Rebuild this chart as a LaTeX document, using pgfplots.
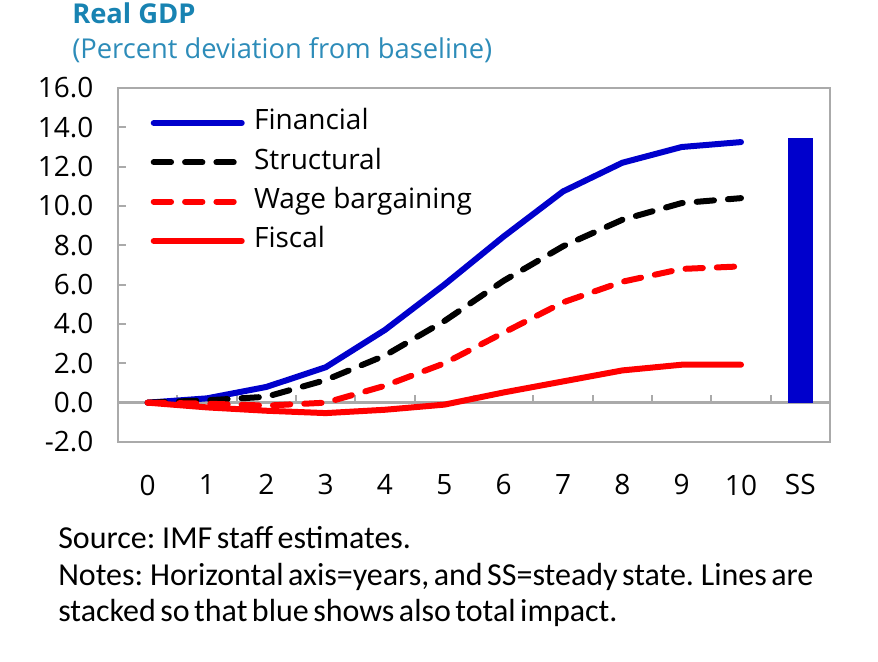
\documentclass[border=0pt]{standalone}
\usepackage{pgfplots}
\pgfplotsset{compat=1.18}
\usepackage{fontspec}
\setmainfont{Open Sans}
\newfontfamily\notefont{Carlito}
\newcommand\nf{\notefont\fontsize{24}{28}\selectfont\spaceskip=0.14em plus 0.02em\relax}
\definecolor{ttl}{RGB}{24,131,178}
\definecolor{sub}{RGB}{45,140,185}
\definecolor{fblue}{RGB}{0,0,204}
\definecolor{axgray}{RGB}{170,170,170}
\begin{document}
\begin{tikzpicture}
\useasboundingbox (0pt,0pt) rectangle (658.5pt,-495.75pt);
\node[anchor=base west, inner sep=0pt, text=ttl, font=\fontsize{20.5}{24}\selectfont\bfseries] at (54pt,-17.5pt) {Real GDP};
\node[anchor=base west, inner sep=0pt, text=sub, font=\fontsize{20.5}{24}\selectfont] at (54pt,-43.5pt) {(Percent deviation from baseline)};
\begin{axis}[
  at={(88.5pt,-331.5pt)}, anchor=south west,
  width=534pt, height=265.5pt, scale only axis,
  xmin=-0.5, xmax=11.5, ymin=-2, ymax=16,
  axis line style={axgray, line width=2.2pt},
  xtick={0,1,2,3,4,5,6,7,8,9,10,11},
  xticklabels={0,1,2,3,4,5,6,7,8,9,10,SS},
  ytick={-2,0,2,4,6,8,10,12,14,16},
  ytick pos=left, tick align=inside,
  major y tick style={axgray, line width=1.5pt},
  major x tick style={draw=none},
  major tick length=6pt,
  yticklabel style={font=\fontsize{21}{24}\selectfont, xshift=-15pt},
  xticklabel style={font=\fontsize{21}{24}\selectfont, anchor=north, yshift=-21pt},
  /pgf/number format/assume math mode=true,
  yticklabel={\pgfmathprintnumber[fixed,fixed zerofill,precision=1]{\tick}},
  legend cell align=left,
  legend style={draw=none, fill=none, at={(0.04,0.947)}, anchor=north west,
    font=\fontsize{21}{24}\selectfont, row sep=9.5pt,
    nodes={inner sep=0pt, text height=15pt, text depth=5pt},
    /tikz/every odd column/.style={column sep=7pt}},
  legend image code/.code={\draw[#1] (0pt,0pt) -- (66pt,0pt);},
  clip=false,
]
\draw[axgray, line width=2.2pt] (axis cs:-0.5,0) -- (axis cs:11.5,0);
\pgfplotsinvokeforeach{0.5,1.5,2.5,3.5,4.5,5.5,6.5,7.5,8.5,9.5,10.5}{
  \draw[axgray, line width=1.5pt] (axis cs:#1,0) -- ++(0pt,6pt);
}
\addplot[ybar, bar width=18.75pt, fill=fblue, draw=none, forget plot] coordinates {(11,13.45)};
\addplot[fblue, line width=4.5pt, line cap=round, line join=round] coordinates {
(0,0) (1,0.22) (2,0.8) (3,1.8) (4,3.7) (5,6.0) (6,8.45) (7,10.74) (8,12.2) (9,13.0) (10,13.25)};
\addlegendentry{Financial}
\addplot[black, line width=4.5pt, line cap=round, line join=round, dash pattern=on 13pt off 10.5pt] coordinates {
(0,0) (1,0.12) (2,0.3) (3,1.15) (4,2.4) (5,4.15) (6,6.2) (7,7.95) (8,9.3) (9,10.15) (10,10.4)};
\addlegendentry{Structural}
\addplot[red, line width=4.5pt, line cap=round, line join=round, dash pattern=on 13pt off 10.5pt] coordinates {
(0,0) (1,-0.05) (2,-0.15) (3,0.0) (4,0.86) (5,2.0) (6,3.56) (7,5.1) (8,6.15) (9,6.8) (10,6.93)};
\addlegendentry{Wage bargaining}
\addplot[red, line width=4.5pt, line cap=round, line join=round] coordinates {
(0,0) (1,-0.24) (2,-0.41) (3,-0.53) (4,-0.36) (5,-0.1) (6,0.52) (7,1.08) (8,1.64) (9,1.93) (10,1.93)};
\addlegendentry{Fiscal}
\end{axis}
\node[anchor=base west, inner sep=0pt] at (43.5pt,-411pt) {\nf Source: IMF staff estimates.};
\node[anchor=base west, inner sep=0pt] at (43.5pt,-438.75pt) {\nf Notes: Horizontal axis=years, and SS=steady state. Lines are};
\node[anchor=base west, inner sep=0pt] at (43.5pt,-465.75pt) {\nf stacked so that blue shows also total impact.};
\end{tikzpicture}
\end{document}
